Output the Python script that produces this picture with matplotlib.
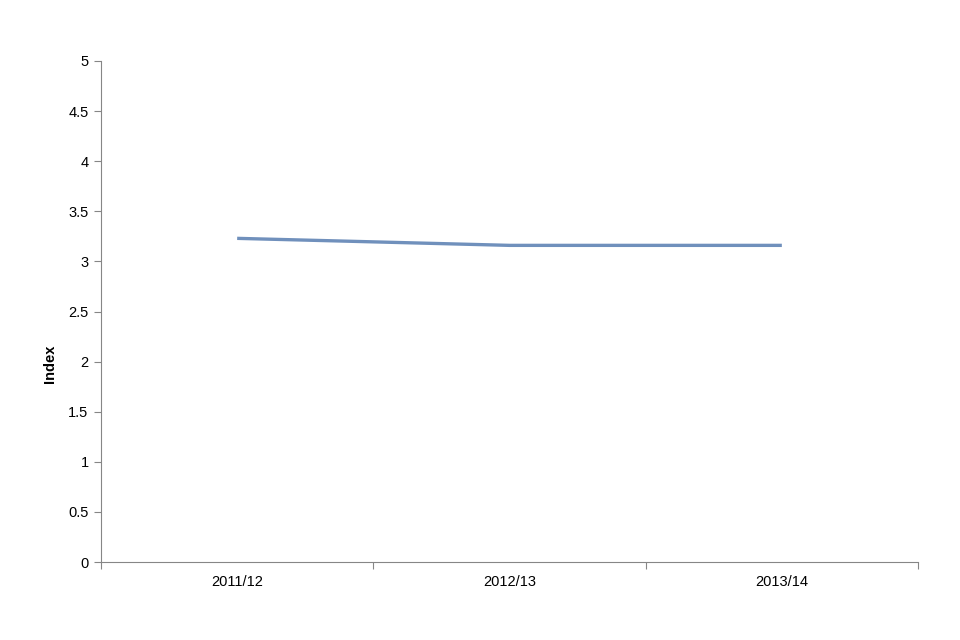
import numpy as np
import matplotlib
matplotlib.use("Agg")
import matplotlib.pyplot as plt

years = ["2011/12", "2012/13", "2013/14"]
index_values = [3.23, 3.16, 3.16]

plt.rcParams["font.family"] = ["Liberation Sans", "DejaVu Sans"]

fig = plt.figure(figsize=(9.6, 6.4), dpi=100)
ax = fig.add_axes([101/960, 78/640, (918-101)/960, (562-61)/640])

x = np.arange(len(years))
ax.plot(x, index_values, color="#7090BC", linewidth=2.4, solid_capstyle="butt")

ax.set_xlim(-0.5, len(years) - 0.5)
ax.set_ylim(0, 5)
ax.set_yticks(np.arange(0, 5.01, 0.5))
ax.set_yticklabels(["0", "0.5", "1", "1.5", "2", "2.5", "3", "3.5", "4", "4.5", "5"])

# category labels in the middle, ticks at the boundaries
ax.set_xticks(np.arange(-0.5, len(years), 1.0))
ax.set_xticklabels([])
ax.set_xticks(x, minor=True)
ax.set_xticklabels(years, minor=True)
ax.tick_params(axis="x", which="minor", length=0, pad=9, labelsize=10.5)
ax.tick_params(axis="x", which="major", length=5, color="#868686", direction="out")
ax.tick_params(axis="y", length=5, color="#868686", direction="out", labelsize=10.5, pad=4)

for side in ["top", "right"]:
    ax.spines[side].set_visible(False)
for side in ["left", "bottom"]:
    ax.spines[side].set_color("#868686")

ax.set_ylabel("Index", fontweight="bold", fontsize=10.5)
ax.yaxis.set_label_coords(-0.054, 0.395)

fig.savefig("out.png", dpi=100)
